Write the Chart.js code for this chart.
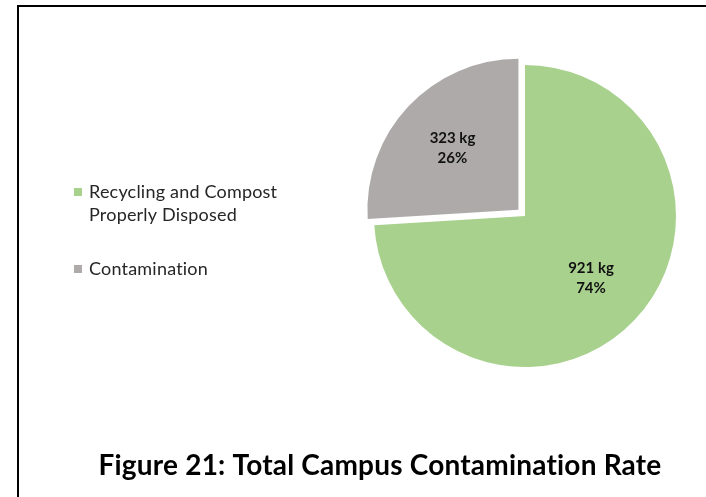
<!DOCTYPE html>
<html>
<head>
<meta charset="utf-8">
<script src="https://cdn.jsdelivr.net/npm/chart.js@4/dist/chart.umd.min.js"></script>
<style>
  body { margin: 0; background: #fff; }
  canvas { display: block; }
</style>
</head>
<body>
<canvas id="contamination" width="706" height="497"></canvas>
<script>
// chart data
var categories = ['Recycling and Compost Properly Disposed', 'Contamination'];
var legendLines = [['Recycling and Compost', 'Properly Disposed'], ['Contamination']];
var weightsKg = [921, 323];
var sliceColors = ['#A9D18E', '#AEAAAA'];
var chartTitle = 'Figure 21: Total Campus Contamination Rate';

var FONT = 'Lato, "Open Sans", sans-serif';

// Lato has a "ti" ligature, a bit of spacing keeps the letters apart
function noLigatures(c) {
    if ('letterSpacing' in c) c.letterSpacing = '0.2px';
}

// frame, legend, slice labels and caption
var decorations = {
    id: 'decorations',
    beforeDraw: function(chart) {
        var c = chart.ctx;
        c.save();
        c.fillStyle = '#000';
        c.fillRect(17, 5, chart.width - 17, 2);
        c.fillRect(17, 5, 2, chart.height - 5);
        c.restore();
    },
    afterDatasetsDraw: function(chart) {
        var c = chart.ctx;
        var meta = chart.getDatasetMeta(0);
        var total = weightsKg.reduce(function(a, b) { return a + b; }, 0);
        c.save();
        c.fillStyle = '#111';
        c.font = 'bold 15px ' + FONT;
        c.textAlign = 'center';
        c.textBaseline = 'middle';
        meta.data.forEach(function(arc, i) {
            var p = arc.getProps(['x', 'y', 'startAngle', 'endAngle', 'outerRadius'], true);
            var mid = (p.startAngle + p.endAngle) / 2;
            var dist = (arc.options.offset || 0) / 4 + p.outerRadius * 0.6;
            var lx = p.x + Math.cos(mid) * dist;
            var ly = p.y + Math.sin(mid) * dist;
            c.fillText(weightsKg[i] + ' kg', lx, ly - 10);
            c.fillText(Math.round(weightsKg[i] / total * 100) + '%', lx, ly + 10);
        });
        c.restore();
    },
    afterDraw: function(chart) {
        var c = chart.ctx;
        c.save();
        noLigatures(c);
        // legend
        var y = 192;
        c.font = '18px ' + FONT;
        c.textBaseline = 'middle';
        c.textAlign = 'left';
        legendLines.forEach(function(lines, i) {
            c.fillStyle = sliceColors[i];
            c.fillRect(74, y - 4, 8, 8);
            c.fillStyle = '#262626';
            lines.forEach(function(t, j) {
                c.fillText(t, 89, y + j * 23);
            });
            y += lines.length * 23 + 31;
        });
        // caption
        c.fillStyle = '#000';
        c.font = 'bold 28px ' + FONT;
        c.textAlign = 'center';
        c.fillText(chartTitle, 380, 466);
        c.restore();
    }
};

var ctx = document.getElementById('contamination').getContext('2d');
var chart = new Chart(ctx, {
    type: 'pie',
    data: {
        labels: categories,
        datasets: [{
            data: weightsKg,
            backgroundColor: sliceColors,
            borderWidth: 0,
            offset: [0, 36]
        }]
    },
    options: {
        responsive: false,
        animation: false,
        radius: 151,
        layout: { padding: { left: 360, right: 16, top: 40, bottom: 105 } },
        plugins: {
            legend: { display: false },
            tooltip: { enabled: false },
            title: { display: false }
        }
    },
    plugins: [decorations]
});
</script>
</body>
</html>
